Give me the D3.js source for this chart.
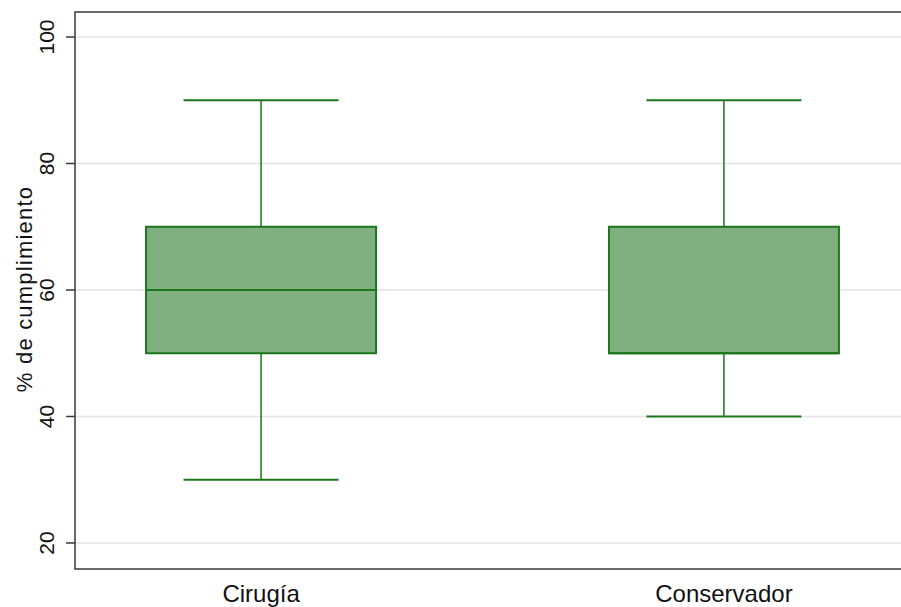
<!DOCTYPE html>
<html>
<head>
<meta charset="utf-8">
<script src="https://cdn.jsdelivr.net/npm/d3@7"></script>
<style>
  html, body { margin: 0; padding: 0; background: #fff; }
  svg { display: block; font-family: "Liberation Sans", Arial, sans-serif; }
</style>
</head>
<body>
<svg id="chart" width="901" height="607"></svg>
<script>
// Box-plot summaries per treatment group
const categories = ["Cirugía", "Conservador"];
const minimum = [30, 40];
const q1 = [50, 50];
const median = [60, 50];
const q3 = [70, 70];
const maximum = [90, 90];
const yTicks = [20, 40, 60, 80, 100];

const svg = d3.select("#chart");
const W = 901, H = 607;
const plot = { left: 75, top: 12, right: 910, bottom: 569 };

const y = d3.scaleLinear().domain([20, 100]).range([543, 37]);
const x = d3.scalePoint().domain(categories).range([plot.left, plot.right]).padding(0.402);

const boxWidth = 230;
const capWidth = 155;
const fill = "#80b080";
const stroke = "#1c761c";

// Horizontal grid lines
svg.append("g")
  .selectAll("line")
  .data(yTicks)
  .join("line")
  .attr("x1", plot.left).attr("x2", W)
  .attr("y1", d => y(d)).attr("y2", d => y(d))
  .attr("stroke", "#e3e3e3").attr("stroke-width", 1.5);

// Boxes
const data = categories.map((c, i) => ({
  c, min: minimum[i], q1: q1[i], med: median[i], q3: q3[i], max: maximum[i]
}));

const g = svg.append("g");
data.forEach(d => {
  const cx = x(d.c);
  // upper whisker
  g.append("line").attr("x1", cx).attr("x2", cx)
    .attr("y1", y(d.q3)).attr("y2", y(d.max))
    .attr("stroke", stroke).attr("stroke-width", 1.5);
  g.append("line").attr("x1", cx - capWidth / 2).attr("x2", cx + capWidth / 2)
    .attr("y1", y(d.max)).attr("y2", y(d.max))
    .attr("stroke", stroke).attr("stroke-width", 2);
  // lower whisker
  g.append("line").attr("x1", cx).attr("x2", cx)
    .attr("y1", y(d.q1)).attr("y2", y(d.min))
    .attr("stroke", stroke).attr("stroke-width", 1.5);
  g.append("line").attr("x1", cx - capWidth / 2).attr("x2", cx + capWidth / 2)
    .attr("y1", y(d.min)).attr("y2", y(d.min))
    .attr("stroke", stroke).attr("stroke-width", 2);
  // interquartile box
  g.append("rect")
    .attr("x", cx - boxWidth / 2).attr("width", boxWidth)
    .attr("y", y(d.q3)).attr("height", y(d.q1) - y(d.q3))
    .attr("fill", fill).attr("stroke", stroke).attr("stroke-width", 2);
  // median
  g.append("line").attr("x1", cx - boxWidth / 2).attr("x2", cx + boxWidth / 2)
    .attr("y1", y(d.med)).attr("y2", y(d.med))
    .attr("stroke", stroke).attr("stroke-width", 2);
});

// Frame: left and bottom axis lines, top border (open to the right)
svg.append("path")
  .attr("d", `M${W + 10},${plot.top}H${plot.left}V${plot.bottom}H${W + 10}`)
  .attr("fill", "none").attr("stroke", "#3a3a3a").attr("stroke-width", 1.5);

// Y axis ticks and rotated labels
const yAxis = svg.append("g");
yTicks.forEach(t => {
  yAxis.append("line")
    .attr("x1", plot.left - 9).attr("x2", plot.left)
    .attr("y1", y(t)).attr("y2", y(t))
    .attr("stroke", "#3a3a3a").attr("stroke-width", 1.5);
  yAxis.append("text")
    .attr("transform", `translate(54,${y(t)}) rotate(-90)`)
    .attr("text-anchor", "middle")
    .attr("font-size", 21)
    .attr("fill", "#111")
    .text(t);
});

// Y axis title
svg.append("text")
  .attr("transform", `translate(32,289) rotate(-90)`)
  .attr("text-anchor", "middle")
  .attr("font-size", 22)
  .attr("letter-spacing", 1.2)
  .attr("fill", "#111")
  .text("% de cumplimiento");

// Category labels
svg.append("g")
  .selectAll("text")
  .data(categories)
  .join("text")
  .attr("x", d => x(d))
  .attr("y", 602)
  .attr("text-anchor", "middle")
  .attr("font-size", 24)
  .attr("fill", "#111")
  .text(d => d);
</script>
</body>
</html>
